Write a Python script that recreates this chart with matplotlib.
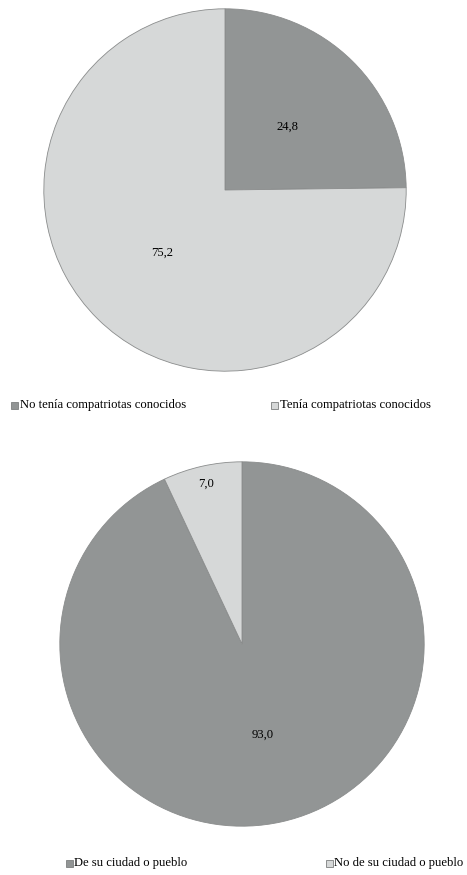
import numpy as np
import matplotlib
matplotlib.use("Agg")
import matplotlib.pyplot as plt
import matplotlib.patches as patches

plt.rcParams["font.family"] = ["Liberation Serif", "DejaVu Serif"]

# data
labels_top = ["No tenía compatriotas conocidos", "Tenía compatriotas conocidos"]
values_top = [24.8, 75.2]
labels_bottom = ["De su ciudad o pueblo", "No de su ciudad o pueblo"]
values_bottom = [93.0, 7.0]

DARK = "#929595"
LIGHT = "#d6d8d8"
EDGE = "#8a8c8c"
FS = 9.1

W, H = 467, 875
fig = plt.figure(figsize=(W / 100, H / 100), dpi=100, facecolor="white")


def pie_axes(cx, cy, r):
    # axes box in pixel units, y measured from the top
    return fig.add_axes([(cx - r) / W, 1 - (cy + r) / H, 2 * r / W, 2 * r / H])


def draw_pie(ax, values, label_dist):
    wedges, _ = ax.pie(
        values,
        colors=[DARK, LIGHT],
        startangle=90,
        counterclock=False,
        radius=1,
        wedgeprops=dict(edgecolor=EDGE, linewidth=0.6),
    )
    for w, v, d in zip(wedges, values, label_dist):
        ang = np.deg2rad((w.theta1 + w.theta2) / 2)
        ax.text(
            d * np.cos(ang),
            d * np.sin(ang),
            "{:.1f}".format(v).replace(".", ","),
            ha="center",
            va="center",
            fontsize=FS,
            color="black",
        )
    ax.set_xlim(-1.01, 1.01)
    ax.set_ylim(-1.01, 1.01)
    ax.set_aspect("equal")
    ax.axis("off")


def legend_item(x, y, text, color):
    s = 7
    sq = patches.Rectangle(
        (x / W, 1 - (y + s / 2) / H),
        s / W,
        s / H,
        transform=fig.transFigure,
        facecolor=color,
        edgecolor="#7d7f7f",
        linewidth=0.6,
    )
    fig.add_artist(sq)
    fig.text((x + s + 1.5) / W, 1 - y / H, text, ha="left", va="center",
             fontsize=FS, color="black")


ax1 = pie_axes(225, 190, 183)
draw_pie(ax1, values_top, [0.49, 0.49])

ax2 = pie_axes(242, 644, 184)
draw_pie(ax2, values_bottom, [0.51, 0.90])

legend_item(11, 405, labels_top[0], DARK)
legend_item(271, 405, labels_top[1], LIGHT)
legend_item(66, 863, labels_bottom[0], DARK)
legend_item(326, 863, labels_bottom[1], LIGHT)

fig.savefig("out.png", dpi=100, facecolor="white")
